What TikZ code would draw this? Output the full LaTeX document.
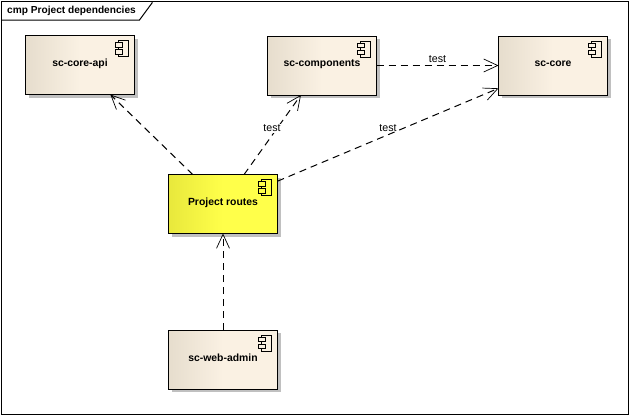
\documentclass[tikz,border=0pt]{standalone}
\usepackage{fontspec}
\setmainfont{Liberation Sans}
\usetikzlibrary{arrows.meta,shadows}

\definecolor{paperdark}{HTML}{E6DDCD}
\definecolor{paperlight}{HTML}{FAF1E3}
\definecolor{lemondark}{HTML}{E8E83C}
\definecolor{lemonlight}{HTML}{FFFF4A}
\definecolor{shadowgray}{HTML}{C0C0C0}

\pgfdeclarehorizontalshading{paperfade}{100bp}{color(0bp)=(paperdark); color(25bp)=(paperdark); color(50bp)=(paperlight); color(100bp)=(paperlight)}
\pgfdeclarehorizontalshading{lemonfade}{100bp}{color(0bp)=(lemondark); color(25bp)=(lemondark); color(50bp)=(lemonlight); color(100bp)=(lemonlight)}

% icon offsets are from the corner of the box
\newcommand{\compicon}[2]{%
    \begin{scope}[shift={(#1.north east)}, line width=1pt]
        \draw (-15.7,5) rectangle (-5.7,21);
        \draw[fill=#2light] (-18.7,7.2) rectangle (-12.2,11.8);
        \draw[fill=#2light] (-18.7,14.2) rectangle (-12.2,18.8);
    \end{scope}%
}

\begin{document}
\begin{tikzpicture}[
    x=1pt, y=-1pt,
    depend/.style={
        draw,
        line width=1pt,
        dash pattern=on 7pt off 5pt,
        -{Straight Barb[length=14pt,width=13pt,line width=0.7pt]}
    },
    compbox/.style={
        draw,
        line width=1pt,
        outer sep=0pt,
        shade,
        shading=#1fade,
        minimum width=109pt,
        minimum height=59pt,
        text depth=4.5pt,
        font=\fontsize{10.4}{12}\selectfont\bfseries,
        drop shadow={shadow xshift=3pt, shadow yshift=-3pt, fill=shadowgray, opacity=1}
    },
    compbox/.default=paper,
    lbl/.style={font=\fontsize{10.67}{12}\selectfont, inner sep=1pt}
]
    \useasboundingbox (0,0) rectangle (633,415);

    % Frame
    \draw[line width=1pt] (1.5,1.5) rectangle (628,414);
    \draw[line width=1pt] (1.5,20) -- (139.5,20) -- (152,3) -- (152,1.5);
    \node[anchor=west, inner sep=0pt, font=\fontsize{10.15}{12}\selectfont\bfseries] (title) at (7,11) {cmp Project dependencies};

    % Components
    \node[compbox] (api) at (80,65) {sc-core-api};
    \node[compbox] (components) at (322,65.5) {sc-components};
    \node[compbox] (core) at (553,65.5) {sc-core};
    \node[compbox=lemon] (routes) at (223,204) {Project routes};
    \node[compbox] (webadmin) at (223,359.5) {sc-web-admin};

    \foreach \n/\c in {api/paper, components/paper, core/paper, routes/lemon, webadmin/paper}
        \compicon{\n}{\c};

    % Arrows
    \draw[depend] (routes) -- (api);
    \draw[depend] (routes) -- node[lbl, fill=white, pos=0.58, xshift=-5pt] {test} (components);
    \draw[depend] (routes) -- node[lbl, pos=0.5, yshift=7pt] {test} (core);
    \draw[depend] (components) -- node[lbl, above=1pt, pos=0.5] {test} (core);
    \draw[depend] (webadmin) -- (routes);
\end{tikzpicture}
\end{document}
